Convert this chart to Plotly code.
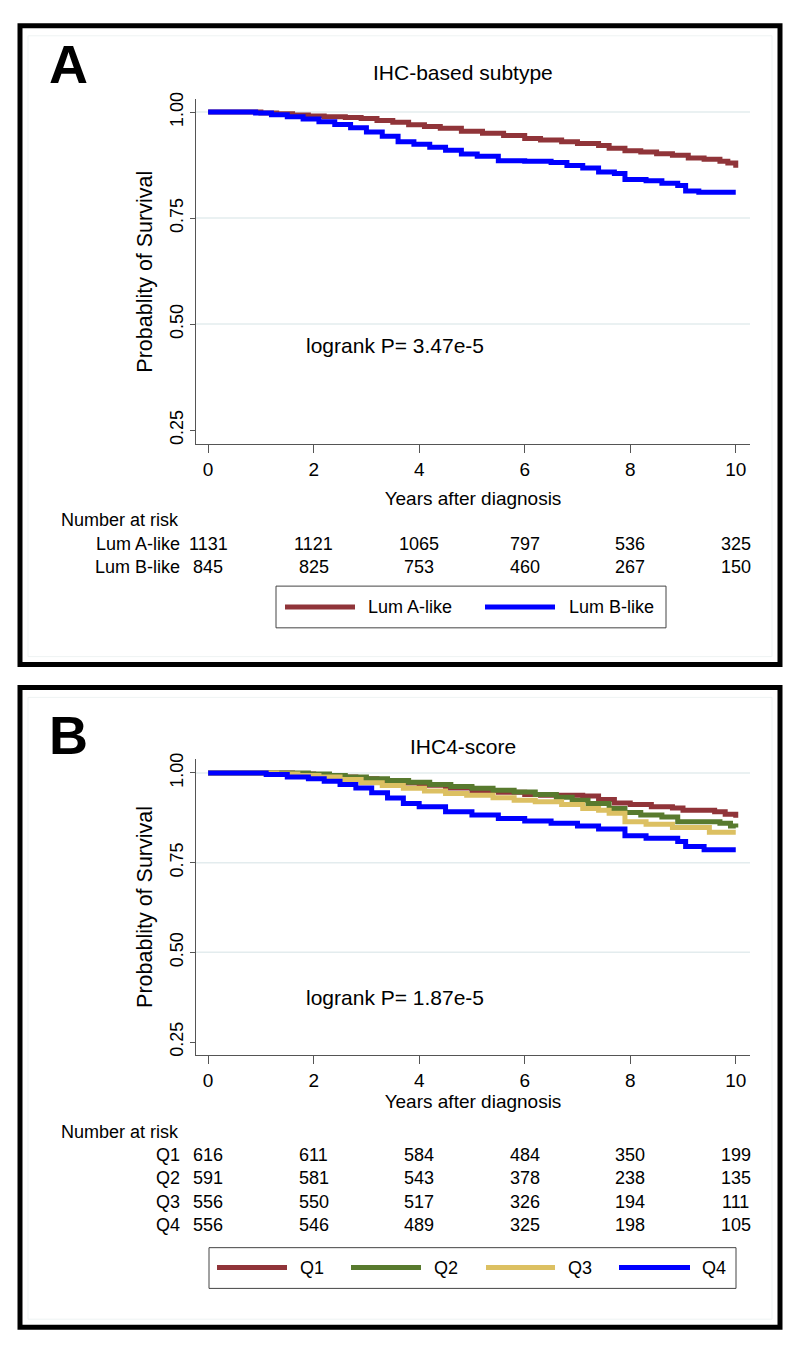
import plotly.graph_objects as go

# ---- data ----
# Panel A: IHC-based subtype
lum_a_t = [0, 1.0, 1.3, 1.6, 1.9, 2.2, 2.6, 2.9, 3.2, 3.5, 3.8, 4.1, 4.4, 4.8, 5.2, 5.6,
           6.0, 6.3, 6.7, 7.0, 7.4, 7.6, 7.9, 8.2, 8.5, 8.8, 9.1, 9.4, 9.7, 9.85, 10]
lum_a_s = [1.0, 0.998, 0.996, 0.993, 0.991, 0.989, 0.987, 0.985, 0.980, 0.976, 0.970, 0.966,
           0.962, 0.955, 0.950, 0.945, 0.938, 0.934, 0.930, 0.926, 0.921, 0.915, 0.909, 0.906,
           0.902, 0.898, 0.892, 0.889, 0.884, 0.880, 0.869]
lum_b_t = [0, 0.9, 1.2, 1.5, 1.8, 2.1, 2.4, 2.7, 3.0, 3.3, 3.6, 3.9, 4.2, 4.5, 4.8, 5.1, 5.5,
           6.0, 6.5, 6.8, 7.1, 7.4, 7.7, 7.9, 8.3, 8.6, 8.9, 9.05, 9.3, 10]
lum_b_s = [1.0, 0.998, 0.994, 0.989, 0.984, 0.977, 0.971, 0.963, 0.953, 0.943, 0.930, 0.924,
           0.917, 0.910, 0.901, 0.896, 0.885, 0.884, 0.881, 0.874, 0.868, 0.859, 0.855, 0.841,
           0.838, 0.832, 0.827, 0.814, 0.811, 0.811]

# Panel B: IHC4-score quartiles
q1_t = [0, 1.6, 2.0, 2.4, 2.8, 3.2, 3.6, 4.0, 4.5, 5.0, 5.5, 6.0, 6.3, 7.1, 7.4, 7.7, 8.0,
        8.4, 8.8, 9.0, 9.6, 9.8, 10]
q1_s = [1.0, 0.997, 0.993, 0.989, 0.984, 0.978, 0.972, 0.966, 0.958, 0.951, 0.946, 0.940,
        0.938, 0.936, 0.926, 0.916, 0.912, 0.906, 0.902, 0.896, 0.892, 0.885, 0.875]
q2_t = [0, 1.9, 2.3, 2.6, 3.0, 3.4, 3.8, 4.2, 4.6, 5.0, 5.4, 5.8, 6.2, 6.6, 6.9, 7.2, 7.6,
        7.9, 8.2, 8.6, 8.9, 9.7, 9.9, 10]
q2_s = [1.0, 0.997, 0.993, 0.989, 0.984, 0.979, 0.974, 0.968, 0.962, 0.957, 0.952, 0.947,
        0.940, 0.932, 0.924, 0.915, 0.901, 0.890, 0.883, 0.877, 0.864, 0.860, 0.852, 0.848]
q3_t = [0, 1.3, 1.7, 2.1, 2.5, 2.9, 3.3, 3.7, 4.1, 4.5, 4.9, 5.4, 5.8, 6.2, 6.7, 7.1, 7.4,
        7.6, 7.9, 8.3, 8.8, 9.4, 9.5, 10]
q3_s = [1.0, 0.997, 0.993, 0.989, 0.982, 0.973, 0.965, 0.957, 0.950, 0.943, 0.938, 0.931,
        0.924, 0.920, 0.912, 0.901, 0.896, 0.888, 0.864, 0.857, 0.848, 0.848, 0.835, 0.835]
q4_t = [0, 1.1, 1.5, 1.9, 2.2, 2.5, 2.8, 3.1, 3.4, 3.7, 4.0, 4.5, 5.0, 5.5, 6.0, 6.5, 7.0,
        7.4, 7.9, 8.3, 8.9, 9.05, 9.4, 10]
q4_s = [1.0, 0.996, 0.989, 0.984, 0.977, 0.968, 0.958, 0.945, 0.930, 0.915, 0.906, 0.892,
        0.883, 0.873, 0.866, 0.860, 0.852, 0.844, 0.825, 0.818, 0.809, 0.795, 0.786, 0.786]

risk_times = [0, 2, 4, 6, 8, 10]
risk_a = {
    "Lum A-like": [1131, 1121, 1065, 797, 536, 325],
    "Lum B-like": [845, 825, 753, 460, 267, 150],
}
risk_b = {
    "Q1": [616, 611, 584, 484, 350, 199],
    "Q2": [591, 581, 543, 378, 238, 135],
    "Q3": [556, 550, 517, 326, 194, 111],
    "Q4": [556, 546, 489, 325, 198, 105],
}
y_ticks = [0.25, 0.50, 0.75, 1.00]
grid_vals = [0.50, 0.75, 1.00]

RED = "#903439"
BLUE = "#0000FF"
GREEN = "#587A2E"
YELLOW = "#DCC062"
FONT = "Arial, Liberation Sans, sans-serif"

W, H = 800, 1349


def px(x):
    return x / W


def py(y):
    return 1 - y / H


def note(text, x, y, xref="paper", yref="paper", size=18, xanchor="center", **kw):
    # explicit anchors, plotly's "auto" shifts paper annotations towards the edges
    return dict(text=text, x=x, y=y, xref=xref, yref=yref, showarrow=False,
                xanchor=xanchor, yanchor="middle", font=dict(size=size, **kw))


fig = go.Figure()

series_a = [("Lum A-like", lum_a_t, lum_a_s, RED), ("Lum B-like", lum_b_t, lum_b_s, BLUE)]
series_b = [("Q1", q1_t, q1_s, RED), ("Q2", q2_t, q2_s, GREEN),
            ("Q3", q3_t, q3_s, YELLOW), ("Q4", q4_t, q4_s, BLUE)]

for name, t, s, c in series_a:
    fig.add_trace(go.Scatter(x=t, y=s, mode="lines", line=dict(color=c, width=5, shape="hv"),
                             name=name, xaxis="x", yaxis="y", showlegend=False))
for name, t, s, c in series_b:
    fig.add_trace(go.Scatter(x=t, y=s, mode="lines", line=dict(color=c, width=5, shape="hv"),
                             name=name, xaxis="x2", yaxis="y2", showlegend=False))

axis_common = dict(showline=True, linecolor="#555555", linewidth=1, ticks="outside",
                   tickcolor="#555555", showgrid=False, zeroline=False)
xcommon = dict(axis_common, tickvals=risk_times, range=[-0.23, 10.27], ticklen=8,
               tickfont=dict(size=19, color="black", family=FONT))
ycommon = dict(axis_common, tickvals=y_ticks, ticktext=["%.2f" % v for v in y_ticks],
               tickangle=-90, ticklen=5, tickfont=dict(size=18, color="black", family=FONT))

fig.update_layout(
    width=W, height=H, margin=dict(l=0, r=0, t=0, b=0),
    paper_bgcolor="white", plot_bgcolor="white",
    font=dict(family=FONT, color="black"),
    xaxis=dict(xcommon, domain=[px(196), px(750)], anchor="y",
               title=dict(text="Years after diagnosis", font=dict(size=19), standoff=12)),
    yaxis=dict(ycommon, domain=[py(440), py(93)], anchor="x", range=[0.217, 1.030],
               title=dict(text="Probablity of Survival", font=dict(size=21.5), standoff=8)),
    xaxis2=dict(xcommon, domain=[px(196), px(750)], anchor="y2",
                title=dict(text="Years after diagnosis", font=dict(size=19), standoff=4)),
    yaxis2=dict(ycommon, domain=[py(1055), py(757)], anchor="x2", range=[0.214, 1.039],
                title=dict(text="Probablity of Survival", font=dict(size=21.5), standoff=8)),
)

shapes = []
ann = []

# light gridlines (Stata style, none at the bottom tick)
for yref, xref in [("y", "x domain"), ("y2", "x2 domain")]:
    for g in grid_vals:
        shapes.append(dict(type="line", xref=xref, yref=yref, x0=0, x1=1, y0=g, y1=g,
                           line=dict(color="#E3ECEE", width=1.5), layer="below"))

# panel frames
for top, bot in [(17, 664), (683, 1331)]:
    shapes.append(dict(type="rect", xref="paper", yref="paper", x0=px(28), x1=px(772),
                       y0=py(top + 12), y1=py(bot - 10), line=dict(color="#EEF3F3", width=1)))
    shapes.append(dict(type="rect", xref="paper", yref="paper", x0=px(20), x1=px(780),
                       y0=py(top + 2), y1=py(bot - 2), line=dict(color="black", width=5)))

# panel letters and titles
for letter, ly, title, ty in [("A", 57, "IHC-based subtype", 66), ("B", 733, "IHC4-score", 744)]:
    ann.append(note("<b>%s</b>" % letter, px(68), py(ly), size=54, family=FONT))
    ann.append(note(title, px(463), py(ty), size=21))

ann.append(note("logrank P= 3.47e-5", 3.55, 0.449, "x", "y", size=21))
ann.append(note("logrank P= 1.87e-5", 3.55, 0.373, "x2", "y2", size=21))


def risk_table(risk, xref, head_y, row_ys):
    ann.append(note("Number at risk", px(59), py(head_y), xanchor="left"))
    for (lab, vals), ry in zip(risk.items(), row_ys):
        ann.append(note(lab, px(182), py(ry), xanchor="right"))
        for t, v in zip(risk_times, vals):
            ann.append(note(str(v), t, py(ry), xref=xref))


risk_table(risk_a, "x", 516, [541, 564])
risk_table(risk_b, "x2", 1133, [1156, 1179, 1203, 1226])


def legend_box(series, box, samples, text_x, line_y):
    x0, x1, y0, y1 = box
    shapes.append(dict(type="rect", xref="paper", yref="paper", x0=px(x0), x1=px(x1),
                       y0=py(y1), y1=py(y0), line=dict(color="#444444", width=1)))
    for (name, _, _, c), (sx0, sx1), tx in zip(series, samples, text_x):
        shapes.append(dict(type="line", xref="paper", yref="paper", x0=px(sx0), x1=px(sx1),
                           y0=py(line_y), y1=py(line_y), line=dict(color=c, width=5)))
        ann.append(note(name, px(tx), py(line_y), xanchor="left"))


legend_box(series_a, (276, 666, 583, 625), [(285, 355), (485, 555)], [366, 567], 604)
legend_box(series_b, (209, 736, 1249, 1290), [(217, 287), (351, 421), (486, 555), (619, 690)],
           [298, 432, 566, 700], 1269)

fig.update_layout(shapes=shapes, annotations=ann)

fig.write_html("out.html", config={"displayModeBar": False},
               post_script="document.body.style.margin='0';")
